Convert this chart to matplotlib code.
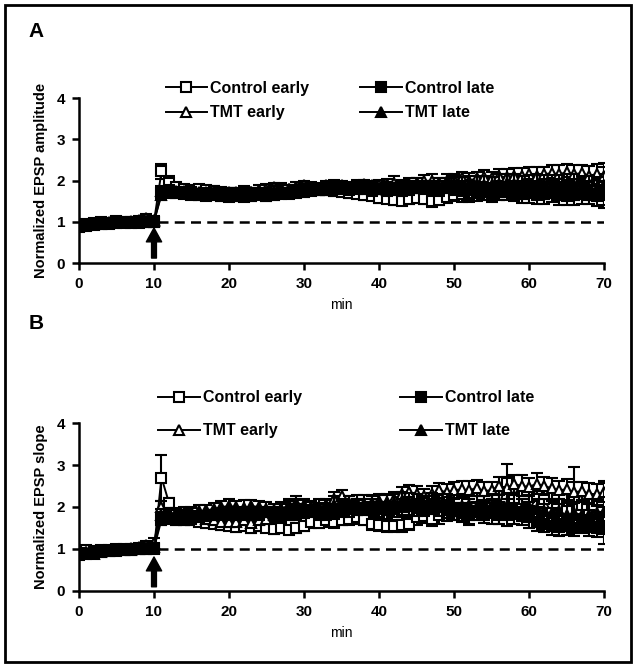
import matplotlib
matplotlib.use("Agg")
import matplotlib.pyplot as plt
from matplotlib.legend import Legend
from matplotlib.patches import Rectangle

plt.rcParams["font.family"] = ["Liberation Sans", "DejaVu Sans"]

minutes = list(range(71))

# ---- panel A: normalized EPSP amplitude ----
ctrl_early_amp = [0.92, 0.95, 0.98, 1.00, 0.97, 1.02, 1.00, 0.98, 1.03, 1.00, 1.00,
                  2.22, 1.95, 1.85, 1.80, 1.78, 1.80, 1.78, 1.75, 1.72, 1.70,
                  1.68, 1.66, 1.65, 1.68, 1.70, 1.72, 1.70, 1.68, 1.70, 1.72,
                  1.75, 1.78, 1.76, 1.74, 1.72, 1.70, 1.68, 1.65, 1.62, 1.58,
                  1.55, 1.52, 1.50, 1.55, 1.58, 1.55, 1.50, 1.52, 1.60, 1.65,
                  1.68, 1.65, 1.70, 1.75, 1.72, 1.78, 1.80, 1.75, 1.80, 1.82,
                  1.85, 1.80, 1.82, 1.85, 1.80, 1.78, 1.82, 1.85, 1.80, 1.85]
ctrl_early_amp_err = [0.08, 0.06, 0.07, 0.05, 0.06, 0.07, 0.05, 0.06, 0.05, 0.06, 0.07,
                      0.18, 0.15, 0.10, 0.10, 0.08, 0.10, 0.08, 0.10, 0.08, 0.10,
                      0.10, 0.08, 0.10, 0.12, 0.10, 0.10, 0.12, 0.10, 0.10, 0.12,
                      0.10, 0.12, 0.10, 0.12, 0.10, 0.12, 0.10, 0.12, 0.10, 0.12,
                      0.10, 0.12, 0.10, 0.12, 0.10, 0.12, 0.15, 0.12, 0.15, 0.15,
                      0.20, 0.18, 0.20, 0.22, 0.20, 0.25, 0.20, 0.22, 0.25, 0.20,
                      0.22, 0.25, 0.20, 0.25, 0.22, 0.25, 0.20, 0.25, 0.22, 0.30]
tmt_early_amp = [0.90, 0.92, 0.95, 0.95, 0.98, 1.00, 0.98, 1.00, 1.02, 1.10, 1.05,
                 1.75, 1.78, 1.75, 1.72, 1.70, 1.72, 1.70, 1.68, 1.70, 1.72,
                 1.72, 1.75, 1.72, 1.78, 1.80, 1.85, 1.82, 1.80, 1.85, 1.88,
                 1.85, 1.82, 1.88, 1.90, 1.88, 1.85, 1.90, 1.92, 1.88, 1.90,
                 1.92, 1.95, 1.90, 1.92, 1.95, 1.98, 2.00, 1.95, 2.00, 2.02,
                 2.05, 2.00, 2.05, 2.08, 2.05, 2.10, 2.08, 2.12, 2.10, 2.15,
                 2.12, 2.15, 2.18, 2.15, 2.20, 2.15, 2.18, 2.12, 2.15, 2.10]
tmt_early_amp_err = [0.07, 0.06, 0.05, 0.06, 0.07, 0.05, 0.06, 0.05, 0.07, 0.08, 0.08,
                     0.12, 0.10, 0.10, 0.08, 0.10, 0.08, 0.10, 0.10, 0.08, 0.10,
                     0.10, 0.12, 0.10, 0.10, 0.12, 0.10, 0.12, 0.10, 0.12, 0.10,
                     0.12, 0.10, 0.12, 0.12, 0.10, 0.12, 0.12, 0.10, 0.12, 0.12,
                     0.12, 0.15, 0.12, 0.15, 0.12, 0.15, 0.15, 0.12, 0.15, 0.15,
                     0.15, 0.18, 0.15, 0.18, 0.15, 0.18, 0.20, 0.18, 0.20, 0.18,
                     0.20, 0.18, 0.20, 0.22, 0.20, 0.22, 0.20, 0.22, 0.25, 0.22]
ctrl_late_amp = [0.88, 0.90, 0.92, 0.95, 0.95, 0.98, 1.00, 1.00, 0.98, 1.00, 1.00,
                 1.70, 1.72, 1.70, 1.68, 1.65, 1.65, 1.62, 1.65, 1.62, 1.60,
                 1.62, 1.60, 1.62, 1.65, 1.62, 1.65, 1.68, 1.70, 1.72, 1.75,
                 1.78, 1.80, 1.78, 1.80, 1.82, 1.80, 1.82, 1.80, 1.78, 1.80,
                 1.82, 1.80, 1.78, 1.80, 1.82, 1.85, 1.82, 1.80, 1.85, 1.82,
                 1.80, 1.78, 1.75, 1.72, 1.70, 1.72, 1.75, 1.70, 1.68, 1.70,
                 1.65, 1.68, 1.70, 1.65, 1.62, 1.65, 1.68, 1.65, 1.62, 1.65]
ctrl_late_amp_err = [0.08, 0.07, 0.06, 0.07, 0.06, 0.05, 0.06, 0.07, 0.06, 0.05, 0.06,
                     0.10, 0.10, 0.12, 0.10, 0.10, 0.12, 0.10, 0.10, 0.12, 0.10,
                     0.12, 0.10, 0.12, 0.10, 0.12, 0.12, 0.10, 0.12, 0.12, 0.10,
                     0.12, 0.12, 0.10, 0.12, 0.12, 0.15, 0.12, 0.12, 0.15, 0.12,
                     0.15, 0.12, 0.15, 0.15, 0.12, 0.15, 0.15, 0.18, 0.15, 0.18,
                     0.18, 0.20, 0.18, 0.20, 0.22, 0.20, 0.22, 0.20, 0.22, 0.25,
                     0.22, 0.25, 0.22, 0.25, 0.22, 0.25, 0.25, 0.22, 0.25, 0.25]
tmt_late_amp = [0.95, 0.95, 0.98, 1.00, 1.00, 1.02, 1.00, 1.02, 1.05, 1.00, 1.02,
                1.65, 1.70, 1.72, 1.75, 1.72, 1.70, 1.72, 1.75, 1.72, 1.70,
                1.68, 1.70, 1.72, 1.70, 1.72, 1.75, 1.78, 1.80, 1.78, 1.80,
                1.82, 1.80, 1.82, 1.85, 1.82, 1.80, 1.82, 1.85, 1.82, 1.80,
                1.78, 1.80, 1.82, 1.85, 1.88, 1.85, 1.82, 1.85, 1.88, 1.90,
                1.88, 1.90, 1.92, 1.90, 1.88, 1.92, 1.95, 1.92, 1.90, 1.88,
                1.90, 1.92, 1.88, 1.85, 1.90, 1.88, 1.85, 1.82, 1.80, 1.88]
tmt_late_amp_err = [0.07, 0.06, 0.07, 0.05, 0.06, 0.06, 0.05, 0.07, 0.06, 0.06, 0.07,
                    0.12, 0.10, 0.12, 0.10, 0.12, 0.10, 0.10, 0.12, 0.10, 0.12,
                    0.10, 0.12, 0.10, 0.12, 0.10, 0.12, 0.12, 0.10, 0.12, 0.12,
                    0.12, 0.15, 0.12, 0.12, 0.15, 0.12, 0.15, 0.12, 0.15, 0.12,
                    0.15, 0.15, 0.18, 0.15, 0.18, 0.15, 0.18, 0.20, 0.18, 0.20,
                    0.20, 0.22, 0.20, 0.22, 0.20, 0.25, 0.22, 0.25, 0.22, 0.25,
                    0.25, 0.22, 0.25, 0.28, 0.25, 0.28, 0.25, 0.30, 0.28, 0.55]

# ---- panel B: normalized EPSP slope ----
ctrl_early_slope = [0.90, 0.98, 0.95, 0.97, 0.98, 1.00, 1.00, 0.98, 1.02, 1.00, 1.00,
                    2.70, 2.10, 1.80, 1.75, 1.70, 1.65, 1.62, 1.60, 1.58, 1.55,
                    1.52, 1.55, 1.50, 1.55, 1.50, 1.48, 1.50, 1.45, 1.50, 1.55,
                    1.65, 1.62, 1.68, 1.65, 1.70, 1.72, 1.75, 1.70, 1.60, 1.58,
                    1.55, 1.55, 1.58, 1.60, 1.75, 1.78, 1.72, 1.80, 1.85, 1.90,
                    1.85, 1.80, 1.90, 1.95, 2.05, 2.00, 2.60, 2.20, 1.95, 1.90,
                    2.25, 2.20, 1.85, 1.80, 1.90, 2.20, 2.05, 1.80, 1.75, 1.70]
ctrl_early_slope_err = [0.08, 0.07, 0.06, 0.07, 0.06, 0.05, 0.06, 0.07, 0.06, 0.05, 0.06,
                        0.55, 0.12, 0.12, 0.10, 0.12, 0.10, 0.12, 0.10, 0.12, 0.10,
                        0.12, 0.10, 0.12, 0.12, 0.10, 0.12, 0.12, 0.10, 0.12, 0.12,
                        0.15, 0.12, 0.15, 0.15, 0.12, 0.15, 0.15, 0.12, 0.15, 0.15,
                        0.15, 0.15, 0.18, 0.15, 0.18, 0.15, 0.18, 0.20, 0.18, 0.20,
                        0.20, 0.22, 0.20, 0.22, 0.25, 0.40, 0.42, 0.30, 0.25, 0.22,
                        0.25, 0.22, 0.25, 0.28, 0.25, 0.75, 0.25, 0.30, 0.28, 0.30]
tmt_early_slope = [0.90, 0.92, 0.88, 0.92, 0.95, 0.98, 1.00, 0.98, 1.05, 1.10, 1.15,
                   2.00, 1.85, 1.85, 1.82, 1.85, 1.80, 1.72, 1.68, 1.65, 1.65,
                   1.65, 1.68, 1.62, 1.70, 1.72, 1.80, 1.95, 2.05, 2.10, 2.05,
                   2.00, 1.95, 2.05, 2.20, 2.25, 2.10, 2.00, 2.05, 2.10, 2.15,
                   2.10, 2.20, 2.30, 2.35, 2.30, 2.25, 2.30, 2.40, 2.35, 2.40,
                   2.42, 2.40, 2.45, 2.38, 2.40, 2.50, 2.45, 2.55, 2.50, 2.48,
                   2.55, 2.50, 2.45, 2.40, 2.42, 2.35, 2.38, 2.32, 2.30, 2.35]
tmt_early_slope_err = [0.07, 0.06, 0.05, 0.06, 0.07, 0.05, 0.06, 0.05, 0.07, 0.08, 0.10,
                       0.15, 0.12, 0.12, 0.10, 0.12, 0.10, 0.12, 0.12, 0.10, 0.12,
                       0.12, 0.12, 0.10, 0.12, 0.12, 0.15, 0.12, 0.15, 0.15, 0.12,
                       0.15, 0.15, 0.12, 0.15, 0.15, 0.15, 0.18, 0.15, 0.18, 0.15,
                       0.18, 0.15, 0.18, 0.18, 0.20, 0.18, 0.20, 0.18, 0.20, 0.20,
                       0.20, 0.22, 0.20, 0.22, 0.20, 0.22, 0.25, 0.22, 0.25, 0.22,
                       0.25, 0.22, 0.25, 0.22, 0.25, 0.25, 0.22, 0.25, 0.25, 0.22]
ctrl_late_slope = [0.85, 0.88, 0.90, 0.92, 0.95, 0.95, 0.98, 1.00, 1.00, 1.00, 1.02,
                   1.70, 1.72, 1.70, 1.68, 1.72, 1.75, 1.78, 1.80, 1.82, 1.80,
                   1.82, 1.85, 1.80, 1.85, 1.88, 1.85, 1.82, 1.80, 1.85, 1.88,
                   1.90, 1.88, 1.85, 1.90, 1.92, 1.95, 1.98, 1.95, 2.00, 1.95,
                   1.92, 1.95, 2.00, 2.02, 1.98, 2.00, 2.05, 2.00, 1.95, 1.90,
                   1.88, 1.85, 1.90, 1.88, 1.85, 1.82, 1.80, 1.85, 1.78, 1.75,
                   1.65, 1.60, 1.55, 1.52, 1.55, 1.50, 1.55, 1.52, 1.50, 1.55]
ctrl_late_slope_err = [0.08, 0.07, 0.06, 0.07, 0.06, 0.05, 0.06, 0.07, 0.06, 0.05, 0.06,
                       0.12, 0.10, 0.12, 0.10, 0.12, 0.10, 0.12, 0.12, 0.10, 0.12,
                       0.12, 0.15, 0.12, 0.15, 0.12, 0.15, 0.15, 0.12, 0.15, 0.15,
                       0.15, 0.18, 0.15, 0.18, 0.15, 0.18, 0.18, 0.15, 0.18, 0.18,
                       0.20, 0.18, 0.20, 0.22, 0.20, 0.22, 0.20, 0.22, 0.22, 0.20,
                       0.22, 0.25, 0.22, 0.25, 0.25, 0.22, 0.25, 0.25, 0.22, 0.25,
                       0.22, 0.20, 0.22, 0.20, 0.22, 0.20, 0.18, 0.20, 0.22, 0.20]
tmt_late_slope = [0.95, 0.92, 0.95, 0.98, 0.98, 1.00, 0.98, 1.02, 1.00, 1.02, 1.05,
                  1.80, 1.80, 1.82, 1.85, 1.88, 1.90, 1.92, 1.95, 2.00, 2.02,
                  2.00, 1.98, 2.02, 2.00, 1.95, 1.92, 1.95, 2.00, 2.02, 2.00,
                  1.98, 2.00, 2.02, 2.05, 2.00, 2.05, 2.10, 2.08, 2.05, 2.10,
                  2.12, 2.10, 2.15, 2.12, 2.10, 2.05, 2.08, 2.10, 2.05, 2.00,
                  2.02, 2.05, 2.00, 1.98, 2.05, 2.10, 2.02, 2.00, 1.95, 2.00,
                  1.95, 1.90, 1.85, 1.90, 1.80, 1.85, 1.82, 1.80, 1.85, 1.88]
tmt_late_slope_err = [0.07, 0.06, 0.07, 0.05, 0.06, 0.06, 0.05, 0.07, 0.06, 0.06, 0.07,
                      0.15, 0.12, 0.12, 0.15, 0.12, 0.15, 0.12, 0.15, 0.15, 0.18,
                      0.15, 0.18, 0.15, 0.15, 0.18, 0.15, 0.18, 0.15, 0.18, 0.18,
                      0.15, 0.18, 0.18, 0.20, 0.18, 0.20, 0.18, 0.20, 0.20, 0.18,
                      0.20, 0.22, 0.20, 0.22, 0.20, 0.22, 0.25, 0.22, 0.25, 0.22,
                      0.25, 0.22, 0.25, 0.28, 0.25, 0.28, 0.30, 0.28, 0.25, 0.28,
                      0.25, 0.28, 0.30, 0.28, 0.30, 0.28, 0.30, 0.28, 0.30, 0.75]

labels = ["Control early", "Control late", "TMT early", "TMT late"]
markers = ["s", "s", "^", "^"]
faces = ["white", "black", "white", "black"]
order = [0, 2, 1, 3]  # open markers first, filled band on top

panels = [
    dict(letter="A", ylab="Normalized EPSP amplitude",
         series=[ctrl_early_amp, ctrl_late_amp, tmt_early_amp, tmt_late_amp],
         errs=[ctrl_early_amp_err, ctrl_late_amp_err, tmt_early_amp_err, tmt_late_amp_err],
         pos=[0.1242, 0.6045, 0.8255, 0.2481], ly=0.953, arrow=(0.85, 0.12),
         leg_x=(0.165, 0.536), leg_y=0.985, spacing=0.62),
    dict(letter="B", ylab="Normalized EPSP slope",
         series=[ctrl_early_slope, ctrl_late_slope, tmt_early_slope, tmt_late_slope],
         errs=[ctrl_early_slope_err, ctrl_late_slope_err, tmt_early_slope_err, tmt_late_slope_err],
         pos=[0.1242, 0.1113, 0.8255, 0.2526], ly=0.514, arrow=(0.81, 0.10),
         leg_x=(0.151, 0.612), leg_y=1.051, spacing=1.12),
]

fig = plt.figure(figsize=(6.36, 6.65), dpi=100)
fig.patches.append(Rectangle((0.008, 0.004), 0.984, 0.988, transform=fig.transFigure,
                             fill=False, edgecolor="black", linewidth=2))

for p in panels:
    ax = fig.add_axes(p["pos"])
    handles = {}
    for z, k in enumerate(order):
        cont = ax.errorbar(minutes, p["series"][k], yerr=p["errs"][k], color="black",
                           linewidth=1.4, marker=markers[k], markersize=7.2,
                           markerfacecolor=faces[k], markeredgecolor="black",
                           markeredgewidth=1.5, ecolor="black", elinewidth=1.5,
                           capsize=4.5, capthick=1.5, zorder=3 + z)
        handles[k] = cont[0]
    ax.plot([10.5, 70], [1, 1], color="black", linestyle=(0, (4, 2.5)), linewidth=1.8, zorder=2)
    ax.annotate("", xy=(10, p["arrow"][0]), xytext=(10, p["arrow"][1]),
                arrowprops=dict(facecolor="black", edgecolor="black", width=3.5,
                                headwidth=11, headlength=10), zorder=10)
    ax.set_xlim(0, 70)
    ax.set_ylim(0, 4)
    ax.set_xticks(range(0, 71, 10))
    ax.set_yticks(range(0, 5))
    for s in ["top", "right"]:
        ax.spines[s].set_visible(False)
    for s in ["left", "bottom"]:
        ax.spines[s].set_linewidth(1.8)
    ax.tick_params(width=1.8, length=5, labelsize=11, pad=5)
    for t in ax.get_xticklabels() + ax.get_yticklabels():
        t.set_fontweight("bold")
    ax.set_xlabel("min", fontsize=10, labelpad=5)
    ax.set_ylabel(p["ylab"], fontsize=10.5, fontweight="bold", labelpad=6)

    for col, (a, b) in enumerate([(0, 2), (1, 3)]):
        leg = Legend(ax, [handles[a], handles[b]], [labels[a], labels[b]], loc="center left",
                     bbox_to_anchor=(p["leg_x"][col], p["leg_y"]), frameon=False,
                     handlelength=2.6, handletextpad=0.2, labelspacing=p["spacing"],
                     prop={"weight": "bold", "size": 11.5}, borderaxespad=0, borderpad=0)
        ax.add_artist(leg)

    fig.text(0.045, p["ly"], p["letter"], fontsize=15, fontweight="bold", ha="left", va="center")

fig.savefig("out.png", dpi=100)
